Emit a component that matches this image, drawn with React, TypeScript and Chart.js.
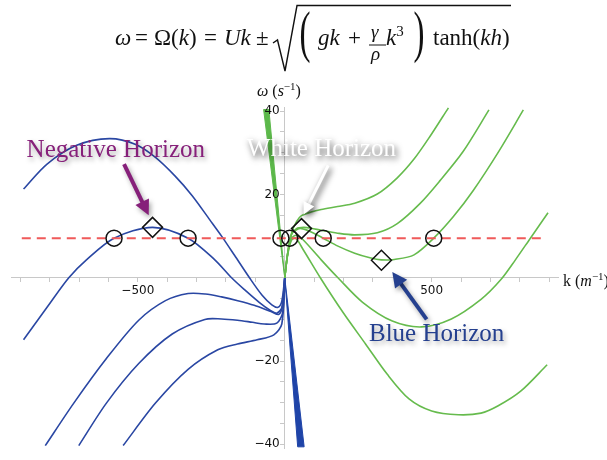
import React, { useEffect, useRef } from 'react';
import { Chart, registerables } from 'chart.js';

Chart.register(...registerables);

// ---------- data (k in m^-1, omega in s^-1) ----------
// minus branch (blue), k < 0
const B1_K = [-889, -809, -708, -597, -507, -440, -373, -315, -255, -215, -171, -120, -77, -44, -23, -10, 0];
const B1_W = [21.3, 27.3, 31.8, 33.4, 32.0, 28.9, 24.4, 19.7, 13.9, 10.0, 5.4, 0, -4.2, -6.5, -7.1, -5.6, 0];
const B2_K = [-889, -809, -735, -675, -581, -450, -329, -238, -181, -138, -87, -50, -27, -10, 0];
const B2_W = [-14.9, -7.1, 0, 4.3, 9.5, 12.1, 9.5, 4.3, 0, -2.8, -5.9, -7.8, -8.5, -7.1, 0];
const B3_K = [-815, -718, -607, -497, -406, -329, -270, -215, -160, -104, -47, -20, -7, 0];
const B3_W = [-40.3, -30.1, -19.4, -10.2, -5.5, -3.8, -3.9, -4.6, -5.5, -6.6, -8.1, -8.8, -6.6, 0];
const B4_K = [-701, -607, -497, -383, -272, -215, -161, -110, -70, -27, -7, 0];
const B4_W = [-40.3, -30.1, -20.6, -13.5, -10.0, -9.9, -10.2, -10.7, -11.1, -10.9, -8.3, 0];
const B5_K = [-550, -440, -329, -228, -161, -94, -37, -10, 0];
const B5_W = [-40.3, -30.1, -22.0, -17.3, -15.9, -14.9, -13.7, -11.1, 0];

// plus branch (green), k > 0
const G1_K = [0, 10, 23, 40, 57, 90, 124, 180, 238, 315, 383, 440, 493, 557];
const G1_W = [0, 5.9, 10.7, 13.5, 14.9, 15.8, 16.4, 17.1, 17.9, 20.1, 24.0, 28.5, 33.8, 40.8];
const G2_K = [0, 10, 23, 40, 64, 90, 124, 180, 238, 315, 383, 460, 527, 607, 695];
const G2_W = [0, 5.9, 10.4, 11.8, 12.1, 11.9, 11.4, 10.7, 10.3, 10.8, 13.0, 17.8, 23.2, 30.3, 40.3];
const G3_K = [0, 10, 23, 40, 57, 90, 131, 181, 238, 290, 329, 373, 440, 507, 574, 641, 728, 812];
const G3_W = [0, 5.9, 10.4, 11.5, 11.8, 11.0, 9.5, 7.6, 5.9, 4.8, 4.3, 4.4, 5.5, 9.5, 14.7, 20.9, 30.3, 40.3];
const G4_K = [0, 10, 23, 40, 64, 124, 181, 265, 366, 466, 567, 668, 735, 785, 836, 896];
const G4_W = [0, 5.7, 9.5, 10.2, 9.0, 4.3, 0, -5.9, -10.4, -11.8, -9.9, -5.2, -0.5, 4.3, 9.5, 15.6];
const G5_K = [0, 10, 23, 37, 64, 121, 198, 275, 349, 423, 500, 591, 668, 725, 802, 893];
const G5_W = [0, 5.5, 9.0, 9.5, 6.6, 0, -8.3, -15.9, -23.2, -29.1, -32.0, -32.9, -32.5, -30.8, -27.3, -20.9];

// steep bundles near the origin
const GREEN_WEDGE_K = [0, -72, -54, 0];
const GREEN_WEDGE_W = [0, 40.4, 40.4, 0];
const BLUE_WEDGE_K = [0, 44, 66, 0];
const BLUE_WEDGE_W = [0, -40.6, -40.6, 0];

// frequency level and marked points
const LEVEL_K = [-895, 880];
const LEVEL_W = [9.5, 9.5];
const CIRCLE_K = [-581, -329, -13, 17, 131, 507];
const CIRCLE_W = [9.5, 9.5, 9.5, 9.5, 9.5, 9.5];
const DIAMOND_K = [-450, 57, 329];
const DIAMOND_W = [12.1, 11.8, 4.2];

// tick labels
const X_TICK_LABELS = [-500, 500];
const Y_TICK_LABELS = [-40, -20, 20, 40];

// ---------- styles ----------
const BLUE = '#2a47a3';
const GREEN = '#66bb4d';
const SERIF = '"Liberation Serif", "DejaVu Serif", serif';
const SANS = '"DejaVu Sans", sans-serif';

const NOTES = [
  { text: 'Negative Horizon', color: '#86207a', textAt: [-575, 30.6], from: [-547, 27.3], to: [-463, 15.0], shaft: 4, head: 15 },
  { text: 'White Horizon', color: '#ffffff', textAt: [125, 30.8], from: [148, 27.0], to: [64, 15.2], shaft: 3, head: 12 },
  { text: 'Blue Horizon', color: '#25408f', textAt: [517, -13.5], from: [483, -10.0], to: [366, 1.4], shaft: 4, head: 15 },
];

const zip = (ks: number[], ws: number[]) => ks.map((k, i) => ({ x: k, y: ws[i] }));
const fmt = (v: number) => (v < 0 ? '\u2212' + Math.abs(v) : String(v));

const notesPlugin = {
  id: 'notes',
  afterDatasetsDraw(chart: any) {
    const { ctx } = chart;
    const xs = chart.scales.x;
    const ys = chart.scales.y;
    ctx.save();
    // y tick labels, left of the vertical axis
    const ax = xs.getPixelForValue(0);
    ctx.font = `12px ${SANS}`;
    ctx.fillStyle = '#111';
    ctx.textAlign = 'right';
    ctx.textBaseline = 'middle';
    for (const v of Y_TICK_LABELS) ctx.fillText(fmt(v), ax - 5, ys.getPixelForValue(v));

    for (const n of NOTES) {
      const white = n.color === '#ffffff';
      ctx.shadowColor = white ? 'rgba(0,0,0,0.75)' : 'rgba(0,0,0,0.35)';
      ctx.shadowBlur = white ? 6 : 5;
      ctx.shadowOffsetX = 2;
      ctx.shadowOffsetY = 3;
      const x0 = xs.getPixelForValue(n.from[0]);
      const y0 = ys.getPixelForValue(n.from[1]);
      const x1 = xs.getPixelForValue(n.to[0]);
      const y1 = ys.getPixelForValue(n.to[1]);
      const a = Math.atan2(y1 - y0, x1 - x0);
      const bx = x1 - Math.cos(a) * n.head;
      const by = y1 - Math.sin(a) * n.head;
      ctx.strokeStyle = n.color;
      ctx.fillStyle = n.color;
      ctx.lineWidth = n.shaft;
      ctx.beginPath();
      ctx.moveTo(x0, y0);
      ctx.lineTo(bx + Math.cos(a) * 2, by + Math.sin(a) * 2);
      ctx.stroke();
      const hw = n.head * 0.5;
      ctx.beginPath();
      ctx.moveTo(x1, y1);
      ctx.lineTo(bx - Math.sin(a) * hw, by + Math.cos(a) * hw);
      ctx.lineTo(bx + Math.sin(a) * hw, by - Math.cos(a) * hw);
      ctx.closePath();
      ctx.fill();
      ctx.font = `25px ${SERIF}`;
      ctx.textAlign = 'center';
      ctx.textBaseline = 'middle';
      ctx.fillText(n.text, xs.getPixelForValue(n.textAt[0]), ys.getPixelForValue(n.textAt[1]));
    }
    ctx.restore();
  },
};

const curve = (ks: number[], ws: number[], color: string) => ({
  data: zip(ks, ws),
  showLine: true,
  borderColor: color,
  borderWidth: 1.6,
  pointRadius: 0,
  tension: 0.3,
  fill: false,
});

const wedge = (ks: number[], ws: number[], color: string) => ({
  data: zip(ks, ws),
  showLine: true,
  borderColor: color,
  backgroundColor: color,
  borderWidth: 1,
  pointRadius: 0,
  tension: 0,
  fill: 'shape' as const,
});

// formula piece positioned by its left edge and baseline
const FS = 23;
const piece = (left: number, baseline: number, size: number, content: React.ReactNode, extra: React.CSSProperties = {}) => (
  <span
    style={{
      position: 'absolute', left, top: baseline - 0.8375 * size, fontSize: size, lineHeight: 1,
      fontFamily: SERIF, color: '#111', whiteSpace: 'pre', ...extra,
    }}
  >
    {content}
  </span>
);

export default function App() {
  const ref = useRef<HTMLCanvasElement | null>(null);

  useEffect(() => {
    if (!ref.current) return;
    const chart = new Chart(ref.current, {
      type: 'scatter',
      data: {
        datasets: [
          {
            data: zip(DIAMOND_K, DIAMOND_W),
            pointStyle: 'rectRot',
            pointRadius: 10,
            borderColor: '#111',
            borderWidth: 1.5,
            backgroundColor: 'rgba(0,0,0,0)',
            showLine: false,
          } as any,
          {
            data: zip(CIRCLE_K, CIRCLE_W),
            pointStyle: 'circle',
            pointRadius: 8,
            borderColor: '#111',
            borderWidth: 1.5,
            backgroundColor: 'rgba(0,0,0,0)',
            showLine: false,
          },
          {
            data: zip(LEVEL_K, LEVEL_W),
            showLine: true,
            borderColor: '#f05a5a',
            borderWidth: 2,
            borderDash: [9, 6],
            pointRadius: 0,
          },
          curve(G1_K, G1_W, GREEN),
          curve(G2_K, G2_W, GREEN),
          curve(G3_K, G3_W, GREEN),
          curve(G4_K, G4_W, GREEN),
          curve(G5_K, G5_W, GREEN),
          curve(B1_K, B1_W, BLUE),
          curve(B2_K, B2_W, BLUE),
          curve(B3_K, B3_W, BLUE),
          curve(B4_K, B4_W, BLUE),
          curve(B5_K, B5_W, BLUE),
          wedge(GREEN_WEDGE_K, GREEN_WEDGE_W, '#5cb84a'),
          wedge(BLUE_WEDGE_K, BLUE_WEDGE_W, '#1f44a8'),
        ] as any,
      },
      options: {
        responsive: false,
        animation: false,
        events: [],
        layout: { padding: { left: 4, right: 49, top: 107, bottom: 8 } },
        plugins: { legend: { display: false }, tooltip: { enabled: false } },
        scales: {
          x: {
            type: 'linear',
            min: -930,
            max: 930,
            position: { y: 0 } as any,
            grid: { drawOnChartArea: false, drawTicks: true, tickLength: 4, color: '#c8c8c8' },
            border: { color: '#c8c8c8', width: 1 },
            ticks: {
              stepSize: 100,
              includeBounds: false,
              autoSkip: false,
              maxRotation: 0,
              padding: 2,
              color: '#111',
              font: { family: SANS, size: 12 },
              callback: (v: any) => (X_TICK_LABELS.includes(Number(v)) ? fmt(Number(v)) : ''),
            },
          },
          y: {
            type: 'linear',
            min: -41,
            max: 41,
            position: { x: 0 } as any,
            grid: { drawOnChartArea: false, drawTicks: true, tickLength: 4, color: '#c8c8c8' },
            border: { color: '#c8c8c8', width: 1 },
            ticks: {
              stepSize: 5,
              includeBounds: false,
              autoSkip: false,
              padding: 2,
              font: { family: SANS, size: 12 },
              callback: () => '',
            },
          },
        },
      },
      plugins: [notesPlugin],
    });
    return () => chart.destroy();
  }, []);

  const BL = 45; // formula baseline
  const sup = (t: string, size: number, top: number) => (
    <span style={{ fontSize: size, position: 'relative', top }}>{t}</span>
  );

  return (
    <div style={{ position: 'absolute', left: 0, top: 0, width: 607, height: 460, background: '#fff', overflow: 'hidden' }}>
      <canvas ref={ref} width={607} height={460} style={{ position: 'absolute', left: 0, top: 0 }} />

      {/* formula */}
      {piece(115, BL, FS, <i>ω</i>)}
      {piece(135, BL, FS, '=')}
      {piece(154, BL, FS, <>Ω(<i>k</i>)</>)}
      {piece(204, BL, FS, '=')}
      {piece(224, BL, FS, <i>Uk</i>)}
      {piece(256, BL, FS, '±')}
      <svg width={607} height={80} style={{ position: 'absolute', left: 0, top: 0 }}>
        <path d="M273 43 L277.5 40 L285 71 L297 5.5 L511 5.5" fill="none" stroke="#111" strokeWidth={1.4} />
        <line x1={369} y1={45} x2={386} y2={45} stroke="#111" strokeWidth={1} />
      </svg>
      {piece(300, BL, 30, '(', { transform: 'scale(1.1, 1.9)', transformOrigin: '50% 62%' })}
      {piece(318, BL, FS, <i>gk</i>)}
      {piece(348, BL, FS, '+')}
      {piece(371, 38, 19, <i>γ</i>)}
      {piece(371, 60, 19, <i>ρ</i>)}
      {piece(386, BL, FS, <><i>k</i>{sup('3', 15, -9)}</>)}
      {piece(414, BL, 30, ')', { transform: 'scale(1.1, 1.9)', transformOrigin: '50% 62%' })}
      {piece(433, BL, FS, <>tanh(<i>kh</i>)</>)}

      {/* axis titles */}
      <div style={{ position: 'absolute', left: 257, top: 83, fontFamily: SERIF, fontSize: 16, color: '#111', whiteSpace: 'pre', lineHeight: 1 }}>
        <i>ω</i> (<i>s</i>{sup('\u22121', 11, -6)})
      </div>
      <div style={{ position: 'absolute', left: 563, top: 273, fontFamily: SERIF, fontSize: 16, color: '#111', whiteSpace: 'pre', lineHeight: 1 }}>
        k (<i>m</i>{sup('\u22121', 11, -6)})
      </div>
    </div>
  );
}
